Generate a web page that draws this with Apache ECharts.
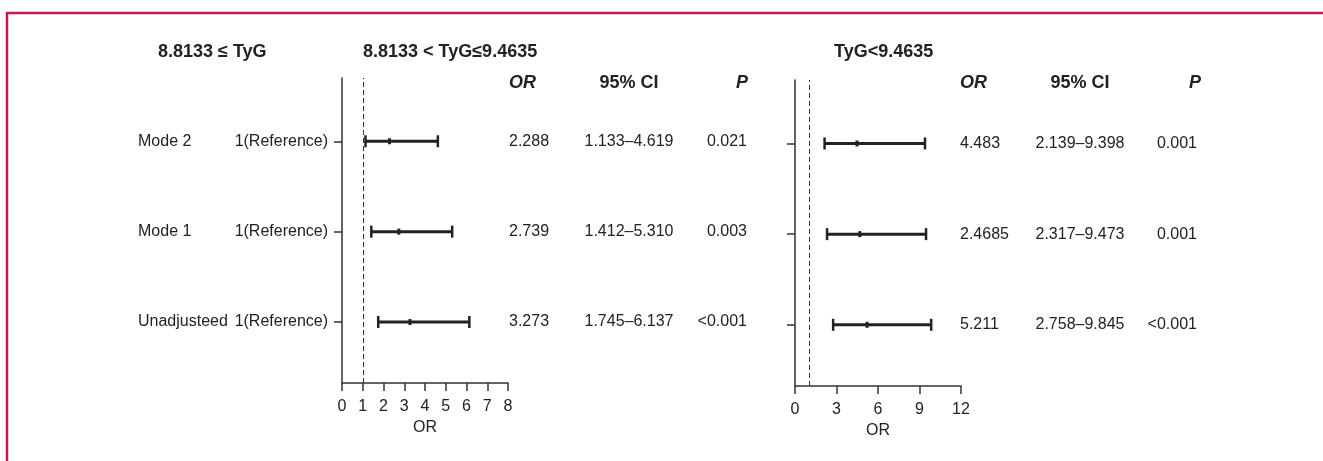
<!DOCTYPE html>
<html>
<head>
<meta charset="utf-8">
<script src="https://cdn.jsdelivr.net/npm/echarts@6/dist/echarts.min.js"></script>
<style>
html,body{margin:0;padding:0;background:#fff;}
#chart{width:1323px;height:461px;}
</style>
</head>
<body>
<div id="chart"></div>
<script>
// ---- data (rows listed bottom to top) ----
const categories = ['Unadjusteed', 'Mode 1', 'Mode 2'];
const refLabel = '1(Reference)';
const groupTitles = ['8.8133 \u2264 TyG', '8.8133 < TyG\u22649.4635', 'TyG<9.4635'];
const colHeaders = ['OR', '95% CI', 'P'];

const leftOR = [3.273, 2.739, 2.288];
const leftLow = [1.745, 1.412, 1.133];
const leftHigh = [6.137, 5.310, 4.619];
const leftORText = ['3.273', '2.739', '2.288'];
const leftCIText = ['1.745\u20136.137', '1.412\u20135.310', '1.133\u20134.619'];
const leftP = ['<0.001', '0.003', '0.021'];

const rightOR = [5.211, 4.685, 4.483];
const rightLow = [2.758, 2.317, 2.139];
const rightHigh = [9.845, 9.473, 9.398];
const rightORText = ['5.211', '2.4685', '4.483'];
const rightCIText = ['2.758\u20139.845', '2.317\u20139.473', '2.139\u20139.398'];
const rightP = ['<0.001', '0.001', '0.001'];

const leftTicks = [0, 1, 2, 3, 4, 5, 6, 7, 8];
const rightTicks = [0, 3, 6, 9, 12];
const refValue = 1;

// ---- styling ----
const FONT = '"Liberation Sans", Arial, Helvetica, sans-serif';
const INK = '#222';
const AXIS = '#333';

const chart = echarts.init(document.getElementById('chart'));

function rowsData(low, high, or) {
  return categories.map((c, i) => [low[i], high[i], or[i], i]);
}

function makeRender(orText, ciText, pText, cols) {
  return function (params, api) {
    const i = params.dataIndex;
    const y = api.value(3);
    const a = api.coord([api.value(0), y]);
    const b = api.coord([api.value(1), y]);
    const m = api.coord([api.value(2), y]);
    const ls = { stroke: INK, lineWidth: 3 };
    const txt = (x, t, align) => ({
      type: 'text',
      x: x, y: a[1],
      style: { text: t, fill: INK, font: '16px ' + FONT, textAlign: align, textVerticalAlign: 'middle' }
    });
    return {
      type: 'group',
      children: [
        { type: 'line', shape: { x1: a[0], y1: a[1], x2: b[0], y2: b[1] }, style: ls },
        { type: 'line', shape: { x1: a[0], y1: a[1] - 6, x2: a[0], y2: a[1] + 6 }, style: { stroke: INK, lineWidth: 2.5 } },
        { type: 'line', shape: { x1: b[0], y1: b[1] - 6, x2: b[0], y2: b[1] + 6 }, style: { stroke: INK, lineWidth: 2.5 } },
        { type: 'rect', shape: { x: m[0] - 1.5, y: m[1] - 3, width: 3, height: 6 }, style: { fill: INK } },
        txt(cols[0], orText[i], 'left'),
        txt(cols[1], ciText[i], 'center'),
        txt(cols[2], pText[i], 'right')
      ]
    };
  };
}

const yMin = -0.675, yMax = 2.7;
const rowVals = categories.map((c, i) => i);

function yAxis(gridIndex, showLabels) {
  return {
    type: 'value', gridIndex: gridIndex, min: yMin, max: yMax,
    splitLine: { show: false },
    axisLine: { show: true, onZero: false, lineStyle: { color: AXIS, width: 1.5 } },
    axisTick: { show: true, length: 8, customValues: rowVals, lineStyle: { color: AXIS, width: 1.5 } },
    axisLabel: {
      show: showLabels, customValues: rowVals, margin: 14,
      formatter: v => '{a|' + categories[Math.round(v)] + '}{b|' + refLabel + '}',
      rich: {
        a: { width: 94, align: 'left', fontSize: 16, fontFamily: FONT, color: INK },
        b: { width: 96, align: 'right', fontSize: 16, fontFamily: FONT, color: INK }
      }
    }
  };
}

function xAxis(gridIndex, ticks) {
  return {
    type: 'value', gridIndex: gridIndex,
    min: ticks[0], max: ticks[ticks.length - 1], interval: ticks[1] - ticks[0],
    splitLine: { show: false },
    axisLine: { show: true, onZero: false, lineStyle: { color: AXIS, width: 1.5 } },
    axisTick: { show: true, length: 8, lineStyle: { color: AXIS, width: 1.5 } },
    axisLabel: { fontSize: 16, fontFamily: FONT, color: INK, margin: 16 },
    name: 'OR', nameLocation: 'middle', nameGap: 36,
    nameTextStyle: { fontSize: 16, fontFamily: FONT, color: INK }
  };
}

function refLine() {
  return {
    silent: true, symbol: 'none', label: { show: false },
    lineStyle: { color: '#333', type: [5, 3], width: 1 },
    data: [{ xAxis: refValue }]
  };
}

function header(x, text, align, italic) {
  return {
    type: 'text', x: x, y: 83,
    style: { text: text, fill: INK, font: (italic ? 'italic ' : '') + 'bold 18px ' + FONT, textAlign: align, textVerticalAlign: 'middle' }
  };
}
function title(x, text) {
  return {
    type: 'text', x: x, y: 52,
    style: { text: text, fill: INK, font: 'bold 18px ' + FONT, textAlign: 'left', textVerticalAlign: 'middle' }
  };
}

const leftCols = [509, 629, 747];
const rightCols = [960, 1080, 1197];

chart.setOption({
  animation: false,
  grid: [
    { left: 342, top: 78, width: 166, height: 305 },
    { left: 795, top: 80, width: 166, height: 306 }
  ],
  xAxis: [xAxis(0, leftTicks), xAxis(1, rightTicks)],
  yAxis: [yAxis(0, true), yAxis(1, false)],
  series: [
    {
      type: 'custom', xAxisIndex: 0, yAxisIndex: 0,
      data: rowsData(leftLow, leftHigh, leftOR),
      renderItem: makeRender(leftORText, leftCIText, leftP, leftCols),
      markLine: refLine()
    },
    {
      type: 'custom', xAxisIndex: 1, yAxisIndex: 1,
      data: rowsData(rightLow, rightHigh, rightOR),
      renderItem: makeRender(rightORText, rightCIText, rightP, rightCols),
      markLine: refLine()
    }
  ],
  graphic: [
    { type: 'rect', z: -10, shape: { x: 7, y: 13, width: 1400, height: 600 }, style: { fill: 'none', stroke: '#c8174a', lineWidth: 2.5 } },
    title(158, groupTitles[0]),
    title(363, groupTitles[1]),
    title(834, groupTitles[2]),
    header(leftCols[0], colHeaders[0], 'left', true),
    header(leftCols[1], colHeaders[1], 'center', false),
    header(748, colHeaders[2], 'right', true),
    header(rightCols[0], colHeaders[0], 'left', true),
    header(rightCols[1], colHeaders[1], 'center', false),
    header(1201, colHeaders[2], 'right', true)
  ]
});
</script>
</body>
</html>
